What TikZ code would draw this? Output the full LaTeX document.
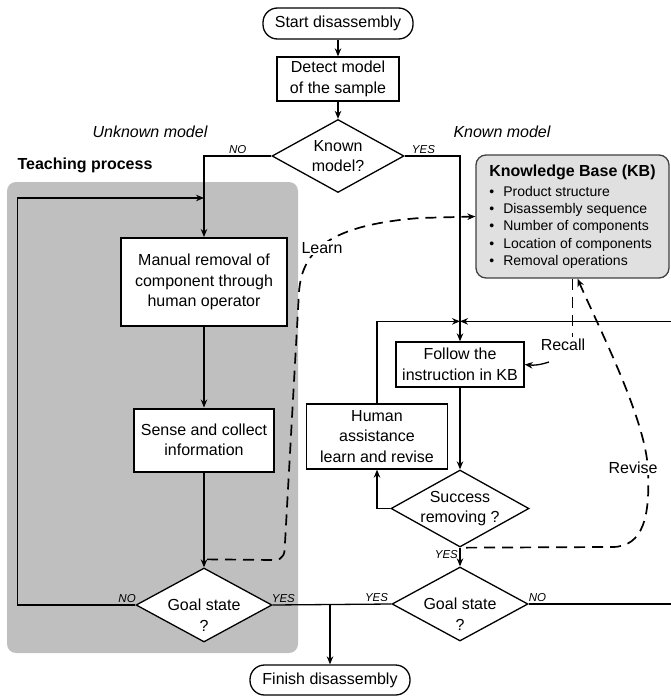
\documentclass[tikz,border=0pt]{standalone}
\usepackage{fontspec}
\setmainfont{Liberation Sans}
\usetikzlibrary{shapes.geometric, positioning, arrows.meta}
\tikzset{
  flowchart/.style={
	>={Stealth[length=8pt, width=6.5pt]}, % small filled arrow heads
	line width=1.3pt,
	x=1pt, y=-1pt, % one unit per pixel, y grows downwards
	every node/.style={font=\fontsize{16}{20.5}\selectfont},
  },
  terminal/.style={draw, fill=white, rounded corners=14.5pt, minimum height=31pt, inner sep=2pt}, % start and end
  process/.style={draw, fill=white, align=center, inner sep=2pt}, % plain steps
  decision/.style={draw, fill=white, diamond, aspect=1.8, inner sep=0pt, align=center}, % questions
  goal/.style={decision, minimum width=136pt, minimum height=74pt,
	label={[align=center, yshift=-10pt]center:{Goal state\\?}}}, % text sits low in the diamond
  flow/.style={->},
  learn/.style={dash pattern=on 11pt off 7pt, line width=1.7pt}, % knowledge links
  answer/.style={font=\fontsize{11.5}{13}\selectfont\itshape, inner sep=1.5pt}, % YES / NO
  branch/.style={font=\fontsize{16}{19}\selectfont\itshape},
}

\begin{document}
\begin{tikzpicture}[flowchart]
	  \useasboundingbox (0,0) rectangle (670,699);
	  % teaching area
	  \fill[black!25, rounded corners=9pt] (7,182) rectangle (298,653);
	  \node[font=\fontsize{16}{19}\selectfont\bfseries] (teach) at (85,165) {Teaching process};
	  \node[branch] (unknownlbl) at (150,132) {Unknown model};
	  \node[branch] (knownlbl) at (502,132) {Known model};

	  \node[terminal, minimum width=150pt] (start) at (338,23.5) {Start disassembly};
	  \node[process, node distance=55.5pt, below of=start, minimum width=122pt, minimum height=44pt] (detect) {Detect model\\of the sample};
	  \node[decision, node distance=77pt, below of=detect, minimum width=132pt, minimum height=73pt] (known) {Known\\model?};

	  \node[process, line width=2pt, minimum width=166pt, minimum height=88pt] (manual) at (204,282) {Manual removal of\\component through\\human operator};
	  \node[process, line width=2pt, node distance=158pt, below of=manual, minimum width=140pt, minimum height=63pt] (sense) {Sense and collect\\information};
	  \node[goal, node distance=165pt, below of=sense] (goalL) {};

	  \node[process, minimum width=128pt, minimum height=45pt] (follow) at (460,364.5) {Follow the\\instruction in KB};
	  \node[process, minimum width=141pt, minimum height=65pt] (human) at (377,436.5) {Human\\assistance\\learn and revise};
	  \node[decision, node distance=144pt, below of=follow, inner sep=-2pt, minimum width=138pt, minimum height=77pt] (success) {Success\\removing ?};
	  \node[goal, node distance=95.5pt, below of=success] (goalR) {};
	  \node[terminal, minimum width=160pt, minimum height=30pt] (finish) at (330,680) {Finish disassembly};

	  \node[draw=black!75, fill=black!12, rounded corners=10pt, align=left, minimum width=193pt, minimum height=123pt, inner sep=4pt,
	        font=\fontsize{14}{17.3}\selectfont] (kb) at (572.5,216.5)
	       {{\fontsize{16}{19}\selectfont\bfseries Knowledge Base (KB)}\\[3pt]
	        \textbullet\hspace{9pt}Product structure\\
	        \textbullet\hspace{9pt}Disassembly sequence\\
	        \textbullet\hspace{9pt}Number of components\\
	        \textbullet\hspace{9pt}Location of components\\
	        \textbullet\hspace{9pt}Removal operations};

	  \coordinate (jL) at ([yshift=39pt]manual.north);
	  \coordinate (jR) at ([yshift=20pt]follow.north);

	  \draw[flow] (start) -- (detect);
	  \draw[flow] (detect) -- (known);
	  \draw[flow] (known.west) -| node[answer, above, pos=0.25] {NO} (manual);
	  \draw[flow] (known.east) -| node[answer, above, pos=0.17] {YES} (follow);
	  \draw[flow] (manual) -- (sense);
	  \draw[flow] (sense) -- (goalL);
	  \draw[flow] (goalL.west) -- node[answer, above, pos=0.07] {NO} ++(-118,0) |- (jL);
	  \draw[flow] (follow) -- (success);
	  \draw[flow] (success.west) -| (human);
	  \draw[flow] (human) |- (jR);
	  \draw[flow] (success) -- node[answer, left, pos=0.35] {YES} (goalR);
	  \draw[flow] (goalR.east) -- node[answer, above, pos=0.06] {NO} ++(148,0) |- (jR);
	  \draw (goalL.east) -- node[answer, above, pos=0.09] {YES} node[answer, above, pos=0.875] {YES} (goalR.west);
	  \draw[flow] (goalL.east -| finish) -- (finish);

	  % learning and recall links
	  \coordinate (learnfrom) at ([xshift=3pt,yshift=8pt]goalL.north);
	  \draw[learn, ->] (learnfrom) -- (274,560) .. controls (284,560) and (285,553) .. (285,543)
	        -- (299,292) .. controls (302,250) and (330,225) .. (420,218) -- (kb.west);
	  \node[fill=white, inner sep=1pt] (learnlbl) at (322,248) {Learn};

	  \coordinate (revfrom) at ([xshift=6pt]success.south);
	  \draw[learn, ->] (revfrom) -- (612,547) .. controls (644,547) and (650,515) .. (648,470)
	        .. controls (646,420) and (600,330) .. ([xshift=5pt]kb.south);
	  \node[fill=white, inner sep=1pt] (revlbl) at (633,468) {Revise};

	  \node[inner sep=1pt] (recall) at (563,345) {Recall};
	  \draw[learn] (kb.south) -- (kb.south |- recall.north);
	  \coordinate (recallfrom) at ([xshift=-14pt,yshift=-17pt]recall.center);
	  \draw[flow] (recallfrom) to[bend left=12] (follow.east);
\end{tikzpicture}
\end{document}
